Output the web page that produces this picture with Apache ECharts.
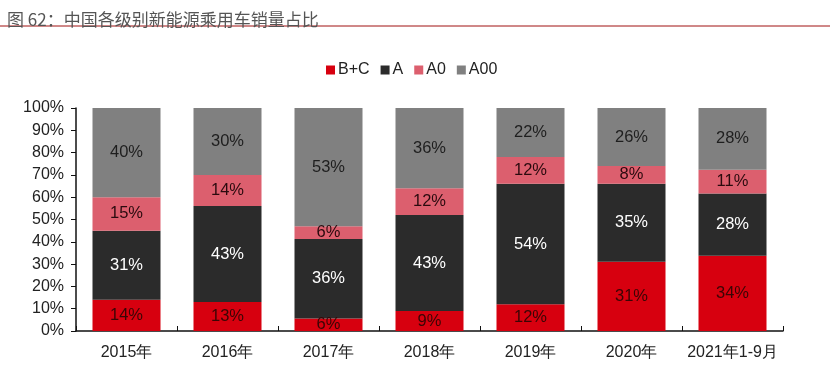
<!DOCTYPE html>
<html>
<head>
<meta charset="utf-8">
<script src="https://cdn.jsdelivr.net/npm/echarts@6/dist/echarts.min.js"></script>
<style>html,body{margin:0;padding:0;background:#fff;}#c{width:830px;height:370px;}</style>
</head>
<body>
<div id="c"></div>
<script>
var titleText = '图 62：中国各级别新能源乘用车销量占比';
var categories = ['2015年', '2016年', '2017年', '2018年', '2019年', '2020年', '2021年1-9月'];
var seriesNames = ['B+C', 'A', 'A0', 'A00'];
var valuesBC  = [14, 13, 5.6, 9, 12, 31, 33.8];
var valuesA   = [31, 43, 35.6, 43, 54, 35, 27.9];
var valuesA0  = [15, 14, 5.8, 12, 12, 8, 10.6];
var valuesA00 = [40, 30, 53.0, 36, 22, 26, 27.7];
var yTicks = [0, 10, 20, 30, 40, 50, 60, 70, 80, 90, 100];

var colors = ['#d7000f', '#2b2b2b', '#dc5f6e', '#808080'];
var labelColors = ['#3a0505', '#ffffff', '#2a0a0e', '#1e1e1e'];
var allValues = [valuesBC, valuesA, valuesA0, valuesA00];

var chart = echarts.init(document.getElementById('c'));
var font = '"Liberation Sans", Arial, sans-serif';
var series = seriesNames.map(function (n, i) {
  return {
    name: n,
    type: 'bar',
    stack: 'total',
    barWidth: 68,
    data: allValues[i],
    itemStyle: { color: colors[i] },
    label: {
      show: true,
      position: 'inside',
      color: labelColors[i],
      fontSize: 16.5,
      fontFamily: font,
      formatter: function (p) { return Math.round(p.value) + '%'; }
    }
  };
});

chart.setOption({
  animation: false,
  color: colors,
  textStyle: { fontFamily: font },
  title: {
    text: titleText,
    left: 2,
    top: 6,
    textStyle: { fontSize: 17, fontWeight: 'normal', color: '#555', fontFamily: '"Noto Sans CJK SC", sans-serif' }
  },
  graphic: [{
    type: 'line',
    shape: { x1: 0, y1: 26, x2: 830, y2: 26 },
    style: { stroke: '#a01010', lineWidth: 1 }
  }],
  legend: {
    data: seriesNames,
    left: 321,
    top: 57,
    icon: 'rect',
    itemWidth: 9,
    itemHeight: 9,
    itemGap: 11,
    textStyle: { fontSize: 16, color: '#222', fontFamily: font, padding: [0, 0, 0, -2] }
  },
  grid: { left: 76, right: 47, top: 108, bottom: 39, containLabel: false },
  xAxis: {
    type: 'category',
    data: categories,
    axisLine: { lineStyle: { color: '#111', width: 1.5 } },
    axisTick: { show: true, inside: true, length: 5, alignWithLabel: false, lineStyle: { color: '#111' } },
    axisLabel: { fontSize: 16, color: '#222', margin: 14, fontFamily: font, interval: 0 }
  },
  yAxis: {
    type: 'value',
    min: 0,
    max: 100,
    interval: 10,
    axisLine: { show: true, lineStyle: { color: '#111', width: 1.5 } },
    axisTick: { show: true, length: 5, lineStyle: { color: '#111' } },
    splitLine: { show: false },
    axisLabel: {
      fontSize: 16, color: '#222', margin: 12, fontFamily: font,
      formatter: function (v) { return yTicks.indexOf(v) >= 0 ? v + '%' : ''; }
    }
  },
  series: series
});
</script>
</body>
</html>
